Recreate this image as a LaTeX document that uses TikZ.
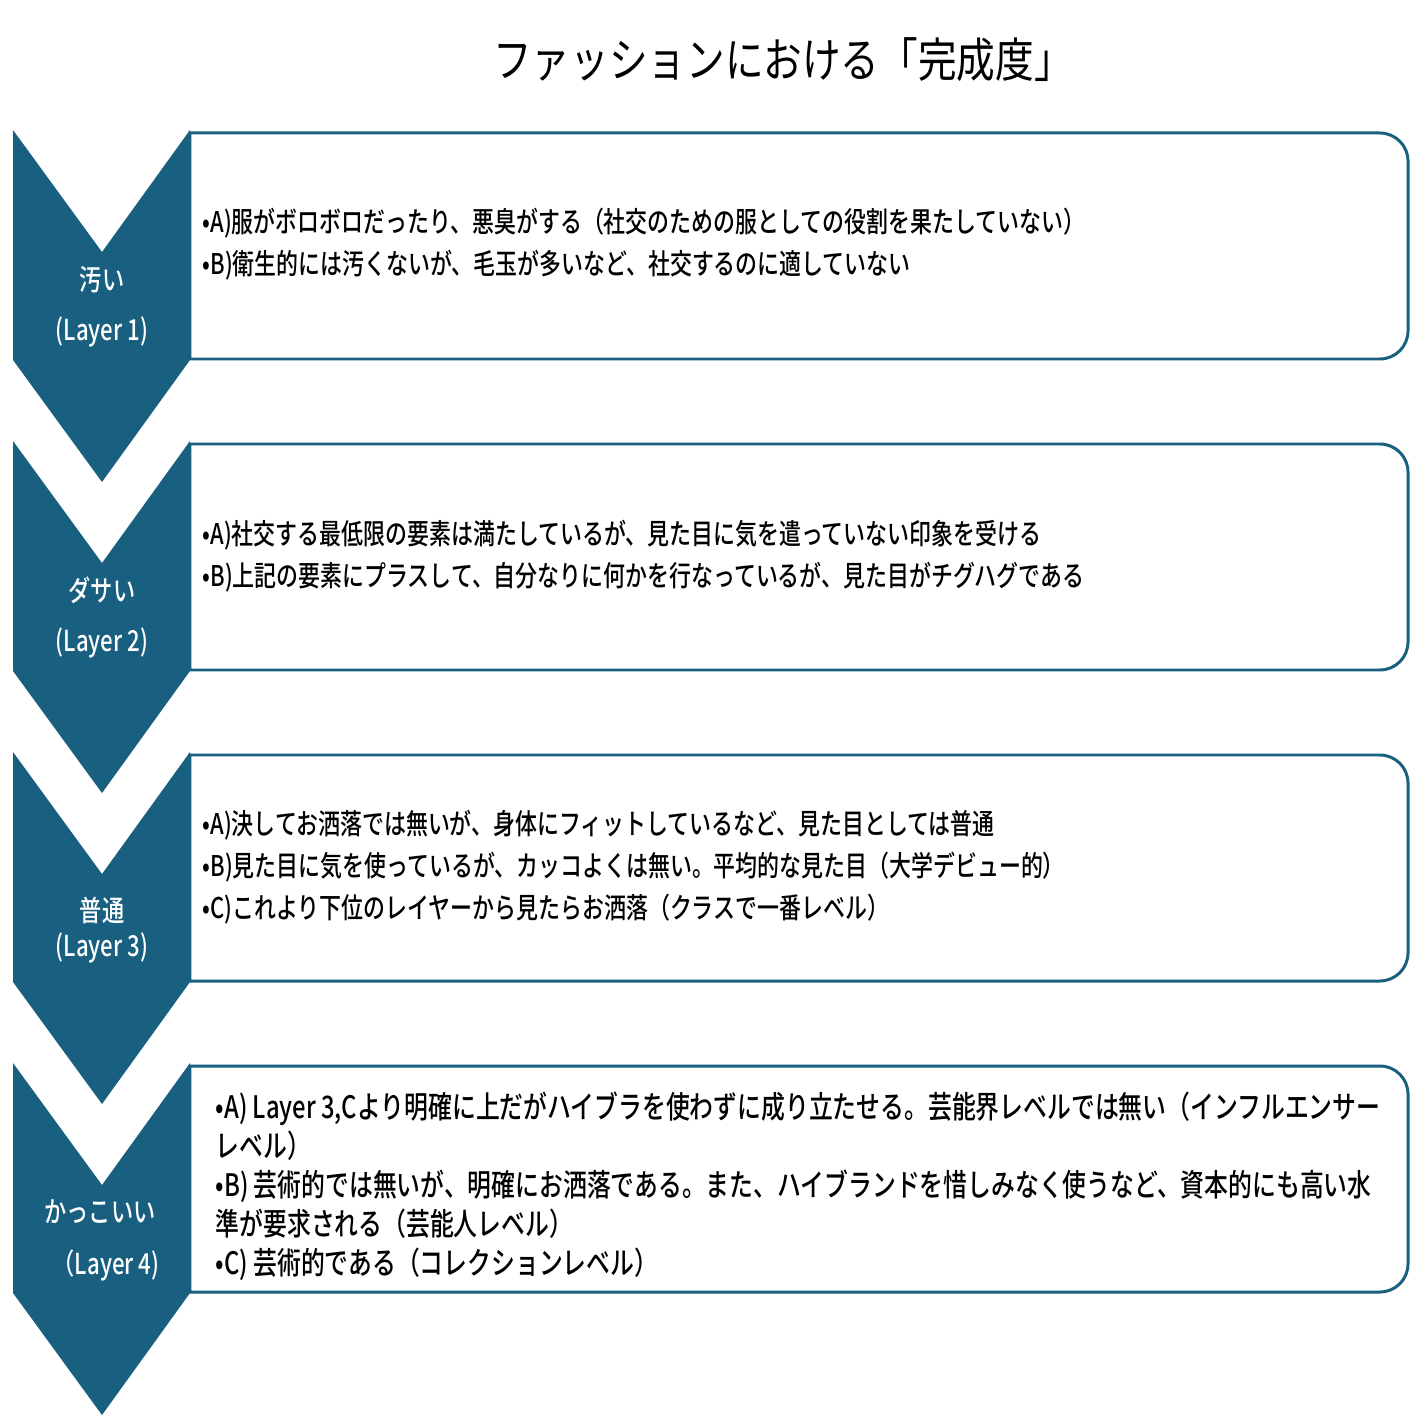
\documentclass[tikz,border=0pt]{standalone}
\usepackage{fontspec}
\usepackage{xcolor}
\usepackage{tikz}
\newfontfamily\jpfont[FakeStretch=0.77]{Noto Sans CJK JP Medium}
\newfontfamily\jptitle[FakeStretch=0.82]{Noto Sans CJK JP}
\definecolor{layerblue}{HTML}{185F80}

\begin{document}
\begin{tikzpicture}[x=0.01cm,y=-0.01cm,
  chev/.style={fill=layerblue},
  panel/.style={draw=layerblue,line width=0.85pt,fill=white},
  lbl/.style={text=white,inner sep=0pt,font=\jpfont\fontsize{8.2}{10}\selectfont},
  desc/.style={anchor=west,align=left,inner sep=0pt,font=\jpfont\fontsize{8.1}{12}\selectfont}]
\useasboundingbox (0,0) rectangle (1422,1422);
%\draw[help lines] (0,0) grid[step=100] (1422,1422);
\path (783,60) node(title) [font=\jptitle\fontsize{13.4}{15}\selectfont] {ファッションにおける「完成度」};
% panels
\draw[panel] (190,359) -- (190,133) [rounded corners=8pt] -- (1408,133) -- (1408,359) [sharp corners] -- cycle;
\draw[panel] (190,670) -- (190,444) [rounded corners=8pt] -- (1408,444) -- (1408,670) [sharp corners] -- cycle;
\draw[panel] (190,981) -- (190,755) [rounded corners=8pt] -- (1408,755) -- (1408,981) [sharp corners] -- cycle;
\draw[panel] (190,1292) -- (190,1066) [rounded corners=8pt] -- (1408,1066) -- (1408,1292) [sharp corners] -- cycle;
% chevrons
\fill[chev] (13,130) -- (102,252) -- (190,130) -- (190,360) -- (102,482) -- (13,360) -- cycle;
\fill[chev] (13,441) -- (102,563) -- (190,441) -- (190,671) -- (102,793) -- (13,671) -- cycle;
\fill[chev] (13,752) -- (102,874) -- (190,752) -- (190,982) -- (102,1104) -- (13,982) -- cycle;
\fill[chev] (13,1063) -- (102,1185) -- (190,1063) -- (190,1293) -- (102,1415) -- (13,1293) -- cycle;
% layer names
\path (102,280) node(n1) [lbl] {汚い}
(102,332) node(l1) [lbl] {(Layer 1)}
(102,590) node(n2) [lbl] {ダサい}
(102,643) node(l2) [lbl] {(Layer 2)}
(102,910) node(n3) [lbl] {普通}
(102,948) node(l3) [lbl] {(Layer 3)}
(100,1212) node(n4) [lbl] {かっこいい}
(106,1265) node(l4) [lbl] {（Layer 4)};
% descriptions
\path (202,244) node(d1) [desc] {•A)服がボロボロだったり、悪臭がする（社交のための服としての役割を果たしていない）\\
•B)衛生的には汚くないが、毛玉が多いなど、社交するのに適していない}
(202,556) node(d2) [desc] {•A)社交する最低限の要素は満たしているが、見た目に気を遣っていない印象を受ける\\
•B)上記の要素にプラスして、自分なりに何かを行なっているが、見た目がチグハグである}
(202,867) node(d3) [desc] {•A)決してお洒落では無いが、身体にフィットしているなど、見た目としては普通\\
•B)見た目に気を使っているが、カッコよくは無い。平均的な見た目（大学デビュー的）\\
•C)これより下位のレイヤーから見たらお洒落（クラスで一番レベル）}
(215,1186) node(d4) [desc,font=\jpfont\fontsize{8.8}{11.1}\selectfont] {•A) Layer 3,Cより明確に上だがハイブラを使わずに成り立たせる。芸能界レベルでは無い（インフルエンサー\\
レベル）\\
•B) 芸術的では無いが、明確にお洒落である。また、ハイブランドを惜しみなく使うなど、資本的にも高い水\\
準が要求される（芸能人レベル）\\
•C) 芸術的である（コレクションレベル）};
\end{tikzpicture}
\end{document}
